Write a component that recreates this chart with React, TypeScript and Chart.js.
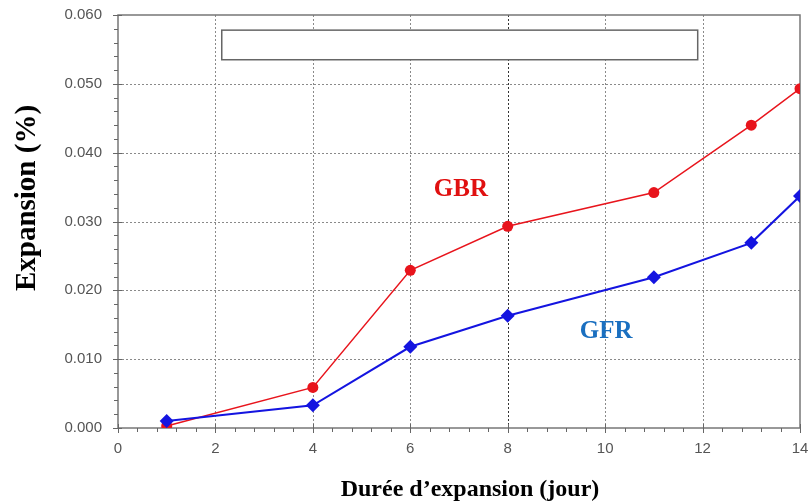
import React, { useEffect, useRef } from 'react';
import { Chart, registerables } from 'chart.js';

Chart.register(...registerables);

const days = [1, 4, 6, 8, 11, 13, 14];
const gbrValues = [0.0003, 0.0059, 0.0229, 0.0293, 0.0342, 0.044, 0.0493];
const gfrValues = [0.001, 0.0033, 0.0118, 0.0163, 0.0219, 0.0269, 0.0337];
const xTicks = [0, 2, 4, 6, 8, 10, 12, 14];
const yTicks = [0, 0.01, 0.02, 0.03, 0.04, 0.05, 0.06];
const seriesNames = ['GBR', 'GFR'];
const xTitle = 'Durée d’expansion (jour)';
const yTitle = 'Expansion (%)';
// label anchor points (data coordinates)
const gbrLabelAt = [7.04, 0.0346];
const gfrLabelAt = [10.02, 0.014];
// empty legend box (data coordinates)
const boxX = [2.13, 11.9];
const boxY = [0.0535, 0.0578];

const RED = '#e8141c';
const BLUE = '#1414e0';
const SERIF = '"Liberation Serif", "Times New Roman", serif';
const SANS = '"Liberation Sans", Arial, sans-serif';

const decor = {
  id: 'decor',
  beforeDatasetsDraw(chart: any) {
    const { ctx, chartArea: a, scales } = chart;
    const x = scales.x;
    const y = scales.y;
    ctx.save();
    // grid
    ctx.lineWidth = 1;
    ctx.setLineDash([2, 2]);
    for (const t of xTicks) {
      if (t <= 0 || t >= 14) continue;
      const px = Math.round(x.getPixelForValue(t)) + 0.5;
      ctx.strokeStyle = t === 8 ? '#333' : '#8a8a8a';
      ctx.beginPath();
      ctx.moveTo(px, a.top);
      ctx.lineTo(px, a.bottom);
      ctx.stroke();
    }
    ctx.strokeStyle = '#8a8a8a';
    for (const t of yTicks) {
      if (t <= 0 || t >= 0.06) continue;
      const py = Math.round(y.getPixelForValue(t)) + 0.5;
      ctx.beginPath();
      ctx.moveTo(a.left, py);
      ctx.lineTo(a.right, py);
      ctx.stroke();
    }
    ctx.setLineDash([]);
    // box
    const bx1 = x.getPixelForValue(boxX[0]);
    const bx2 = x.getPixelForValue(boxX[1]);
    const by1 = y.getPixelForValue(boxY[1]);
    const by2 = y.getPixelForValue(boxY[0]);
    ctx.fillStyle = '#fff';
    ctx.fillRect(bx1, by1, bx2 - bx1, by2 - by1);
    ctx.strokeStyle = '#666';
    ctx.lineWidth = 1.5;
    ctx.strokeRect(bx1, by1, bx2 - bx1, by2 - by1);
    // frame
    ctx.strokeStyle = '#777';
    ctx.lineWidth = 1.5;
    ctx.strokeRect(a.left, a.top, a.right - a.left, a.bottom - a.top);
    // ticks
    ctx.lineWidth = 1;
    ctx.strokeStyle = '#666';
    for (let i = 0; i < xTicks.length; i++) {
      const t = xTicks[i];
      const px = Math.round(x.getPixelForValue(t)) + 0.5;
      ctx.beginPath();
      ctx.moveTo(px, a.bottom - 4);
      ctx.lineTo(px, a.bottom + 5);
      ctx.stroke();
      if (i < xTicks.length - 1) {
        const step = (xTicks[i + 1] - t) / 5;
        for (let k = 1; k < 5; k++) {
          const mx = Math.round(x.getPixelForValue(t + step * k)) + 0.5;
          ctx.beginPath();
          ctx.moveTo(mx, a.bottom);
          ctx.lineTo(mx, a.bottom + 4);
          ctx.stroke();
        }
      }
    }
    for (let i = 0; i < yTicks.length; i++) {
      const t = yTicks[i];
      const py = Math.round(y.getPixelForValue(t)) + 0.5;
      ctx.beginPath();
      ctx.moveTo(a.left - 5, py);
      ctx.lineTo(a.left + 4, py);
      ctx.stroke();
      if (i < yTicks.length - 1) {
        const step = (yTicks[i + 1] - t) / 5;
        for (let k = 1; k < 5; k++) {
          const my = Math.round(y.getPixelForValue(t + step * k)) + 0.5;
          ctx.beginPath();
          ctx.moveTo(a.left - 4, my);
          ctx.lineTo(a.left, my);
          ctx.stroke();
        }
      }
    }
    ctx.restore();
  },
  afterDraw(chart: any) {
    const { ctx, scales } = chart;
    const x = scales.x;
    const y = scales.y;
    ctx.save();
    ctx.textAlign = 'center';
    ctx.textBaseline = 'middle';
    ctx.font = `bold 25px ${SERIF}`;
    ctx.fillStyle = '#e01010';
    ctx.fillText(seriesNames[0], x.getPixelForValue(gbrLabelAt[0]), y.getPixelForValue(gbrLabelAt[1]));
    ctx.fillStyle = '#1a6fc0';
    ctx.fillText(seriesNames[1], x.getPixelForValue(gfrLabelAt[0]), y.getPixelForValue(gfrLabelAt[1]));
    ctx.fillStyle = '#000';
    ctx.font = `bold 24px ${SERIF}`;
    ctx.fillText(xTitle, 470, 490);
    ctx.translate(28, 198);
    ctx.rotate(-Math.PI / 2);
    ctx.font = `bold 29px ${SERIF}`;
    ctx.fillText(yTitle, 0, 0);
    ctx.restore();
  },
};

export default function App() {
  const ref = useRef<HTMLCanvasElement | null>(null);
  useEffect(() => {
    if (!ref.current) return;
    const chart = new Chart(ref.current, {
      type: 'line',
      data: {
        datasets: [
          {
            label: seriesNames[1],
            data: days.map((d, i) => ({ x: d, y: gfrValues[i] })),
            borderColor: BLUE,
            backgroundColor: BLUE,
            pointStyle: 'rectRot',
            pointRadius: 7,
            borderWidth: 2,
            pointBorderWidth: 0,
            order: 0,
          },
          {
            label: seriesNames[0],
            data: days.map((d, i) => ({ x: d, y: gbrValues[i] })),
            borderColor: RED,
            backgroundColor: RED,
            pointStyle: 'circle',
            pointRadius: 5.5,
            borderWidth: 1.5,
            pointBorderWidth: 0,
            order: 1,
          },
        ],
      },
      options: {
        responsive: false,
        animation: false,
        devicePixelRatio: 1,
        layout: { padding: { top: 15, right: 10, left: 0, bottom: 0 } },
        plugins: { legend: { display: false }, tooltip: { enabled: false } },
        scales: {
          x: {
            type: 'linear',
            min: 0,
            max: 14,
            grid: { display: false },
            border: { display: false },
            ticks: {
              stepSize: 2,
              padding: 4,
              color: '#555',
              font: { family: SANS, size: 15 },
              maxRotation: 0,
            },
            afterFit: (s: any) => {
              s.height = 74;
              s.paddingLeft = 0;
              s.paddingRight = 0;
            },
          },
          y: {
            type: 'linear',
            min: 0,
            max: 0.06,
            grid: { display: false },
            border: { display: false },
            ticks: {
              stepSize: 0.01,
              padding: 8,
              color: '#555',
              font: { family: SANS, size: 15 },
              callback: (v: any) => Number(v).toFixed(3),
            },
            afterFit: (s: any) => {
              s.width = 118;
              s.paddingTop = 0;
              s.paddingBottom = 0;
            },
          },
        },
      },
      plugins: [decor],
    });
    return () => chart.destroy();
  }, []);
  return (
    <div style={{ position: 'absolute', left: 0, top: 0, width: 810, height: 502, background: '#fff' }}>
      <canvas ref={ref} width={810} height={502} />
    </div>
  );
}
